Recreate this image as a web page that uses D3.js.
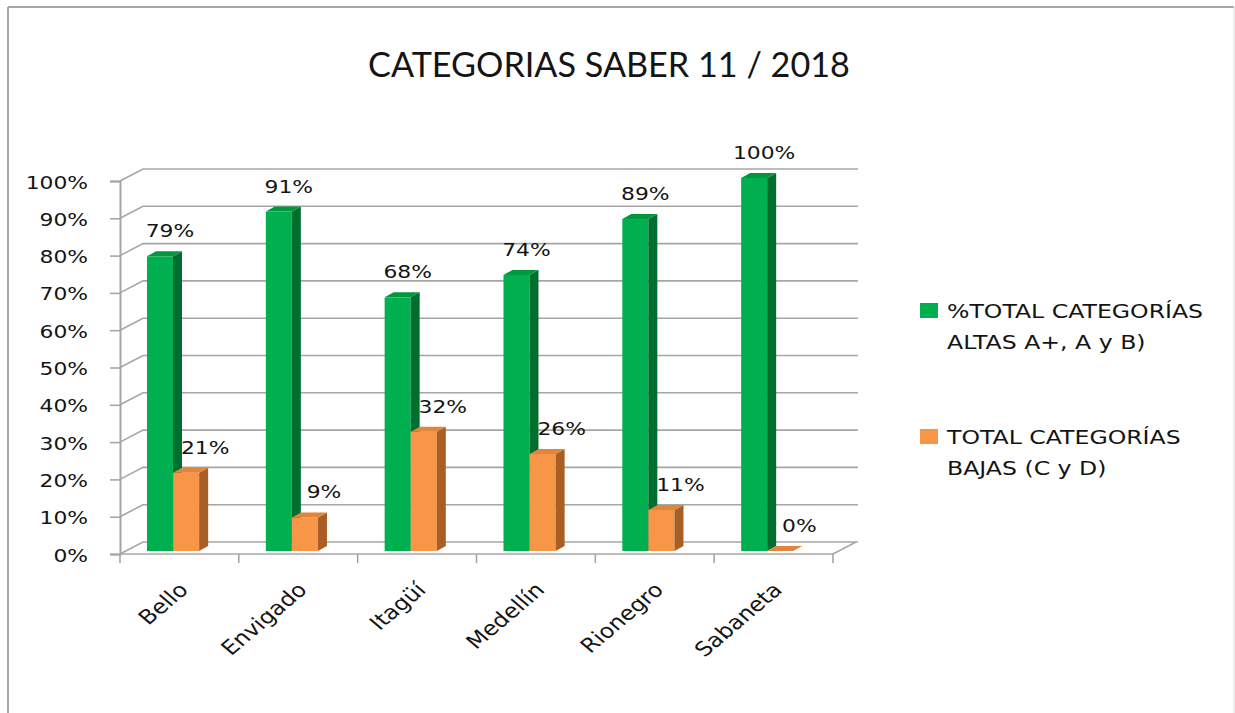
<!DOCTYPE html>
<html>
<head>
<meta charset="utf-8">
<script src="https://cdn.jsdelivr.net/npm/d3@7"></script>
<style>
  body { margin: 0; background: #fff; }
  text { fill: #141414; }
</style>
</head>
<body>
<svg id="chart" width="1235" height="713"></svg>
<script>
  // values
  var categories = ["Bello", "Envigado", "Itagüí", "Medellín", "Rionegro", "Sabaneta"]
  var altas = [0.79, 0.91, 0.68, 0.74, 0.89, 1.00]
  var bajas = [0.21, 0.09, 0.32, 0.26, 0.11, 0.00]
  var yTicks = [0, 0.1, 0.2, 0.3, 0.4, 0.5, 0.6, 0.7, 0.8, 0.9, 1.0]
  var legendLines = [["%TOTAL CATEGORÍAS", "ALTAS A+, A y B)"], ["TOTAL CATEGORÍAS", "BAJAS (C y D)"]]
  var title = "CATEGORIAS SABER 11 / 2018"

  var SX = 1.18            // the picture is stretched sideways
  var DX = 23, DY = -12    // wall depth
  var BDX = 9, BDY = -5    // column depth
  var font = "'DejaVu Sans', Verdana, sans-serif"

  var svg = d3.select('#chart')

  // frame
  svg.append('line').attr('x1', 8).attr('y1', 7).attr('x2', 8).attr('y2', 713)
    .style('stroke', '#a6a6a6').style('stroke-width', 2)
  svg.append('line').attr('x1', 8).attr('y1', 7).attr('x2', 1234).attr('y2', 7)
    .style('stroke', '#a6a6a6').style('stroke-width', 2)
  svg.append('line').attr('x1', 1234).attr('y1', 7).attr('x2', 1234).attr('y2', 713)
    .style('stroke', '#dcdcdc').style('stroke-width', 1)

  // title
  var t = svg.append('text')
    .attr('text-anchor', 'middle')
    .style('font-family', "Lato, 'Open Sans', sans-serif")
    .style('font-size', '34px')
    .text(title)
  var tw = t.node().getComputedTextLength()
  t.attr('transform', 'translate(609,77) scale(' + (482 / tw) + ',1)')

  var x = d3.scaleBand().domain(categories).range([120, 833])
  var y = d3.scaleLinear().domain([0, 1]).range([554, 181])
  var bw = x.bandwidth()

  // walls and gridlines
  var grid = svg.append('g')
  yTicks.forEach(function(v){
    grid.append('path')
      .attr('d', 'M120,' + y(v) + 'L' + (120 + DX) + ',' + (y(v) + DY) + 'L858,' + (y(v) + DY))
      .style('fill', 'none').style('stroke', '#a6a6a6').style('stroke-width', 1.6)
  })
  // floor
  grid.append('path')
    .attr('d', 'M120,554L833,554L' + (833 + DX) + ',' + (554 + DY))
    .style('fill', 'none').style('stroke', '#a6a6a6').style('stroke-width', 1.6)

  // y axis
  var yAxis = svg.append('g')
    .attr('transform', 'translate(120,0)')
    .call(d3.axisLeft(y).tickValues(yTicks).tickSize(10).tickFormat(d3.format('.0%')))
  yAxis.selectAll('.domain').attr('stroke', '#a6a6a6').attr('stroke-width', 2)
  yAxis.selectAll('line').attr('stroke', '#a6a6a6').attr('stroke-width', 1.6)
  yAxis.selectAll('text')
    .attr('x', null).attr('dy', null)
    .attr('transform', 'translate(-32,7) scale(' + SX + ',1)')
    .style('font-family', font).style('font-size', '18.5px').style('fill', '#141414')

  // category ticks
  var bounds = categories.map(function(c){ return x(c) }).concat([x.range()[1]])
  svg.selectAll('.catTick').data(bounds)
    .enter().append('line')
    .attr('class', 'catTick')
    .attr('x1', function(d){ return d }).attr('x2', function(d){ return d })
    .attr('y1', 554).attr('y2', 563)
    .style('stroke', '#a6a6a6').style('stroke-width', 1.6)

  // category labels
  svg.selectAll('.catLabel').data(categories)
    .enter().append('text')
    .attr('class', 'catLabel')
    .attr('text-anchor', 'end')
    .attr('transform', function(d){
      return 'translate(' + (x(d) + bw / 2 + 10) + ',591) scale(' + SX + ',1) rotate(-45)'
    })
    .style('font-family', font).style('font-size', '20px')
    .text(function(d){ return d })

  // 3d columns
  var series = [
    {values: altas, off: 0.227, front: '#00b050', side: '#006e2e', top: '#00973f', lab: 10},
    {values: bajas, off: 0.447, front: '#f79646', side: '#a95e26', top: '#e0853c', lab: 19}
  ]
  var w = 0.219 * bw
  var bars = svg.append('g')
  categories.forEach(function(c, i){
    series.forEach(function(s){
      var v = s.values[i]
      var x0 = x(c) + s.off * bw, x1 = x0 + w
      var yb = y(0) - 3, yt = y(v) - 3
      var g = bars.append('g')
      g.append('rect')
        .attr('x', x0).attr('y', yt).attr('width', w).attr('height', yb - yt)
        .attr('fill', s.front)
      g.append('path')
        .attr('d', 'M' + x1 + ',' + yb + 'L' + x1 + ',' + yt + 'L' + (x1 + BDX) + ',' + (yt + BDY) +
                   'L' + (x1 + BDX) + ',' + (yb + BDY) + 'Z')
        .attr('fill', s.side)
      g.append('path')
        .attr('d', 'M' + x0 + ',' + yt + 'L' + x1 + ',' + yt + 'L' + (x1 + BDX) + ',' + (yt + BDY) +
                   'L' + (x0 + BDX) + ',' + (yt + BDY) + 'Z')
        .attr('fill', s.top)
    })
  })

  // data labels
  categories.forEach(function(c, i){
    series.forEach(function(s){
      var v = s.values[i]
      var cx = x(c) + s.off * bw + w / 2 + s.lab
      svg.append('text')
        .attr('text-anchor', 'middle')
        .attr('transform', 'translate(' + cx + ',' + (y(v) - 3 - 19) + ') scale(' + SX + ',1)')
        .style('font-family', font).style('font-size', '18.5px')
        .text(d3.format('.0%')(v))
    })
  })

  // legend
  var legend = svg.append('g')
  var legTop = [303, 429]
  legendLines.forEach(function(lines, k){
    legend.append('rect')
      .attr('x', 920).attr('y', legTop[k]).attr('width', 18).attr('height', 15)
      .attr('fill', series[k].front)
    lines.forEach(function(line, j){
      legend.append('text')
        .attr('transform', 'translate(947,' + (legTop[k] + 15 + j * 31) + ') scale(' + SX + ',1)')
        .style('font-family', font).style('font-size', '20px')
        .text(line)
    })
  })
</script>
</body>
</html>
